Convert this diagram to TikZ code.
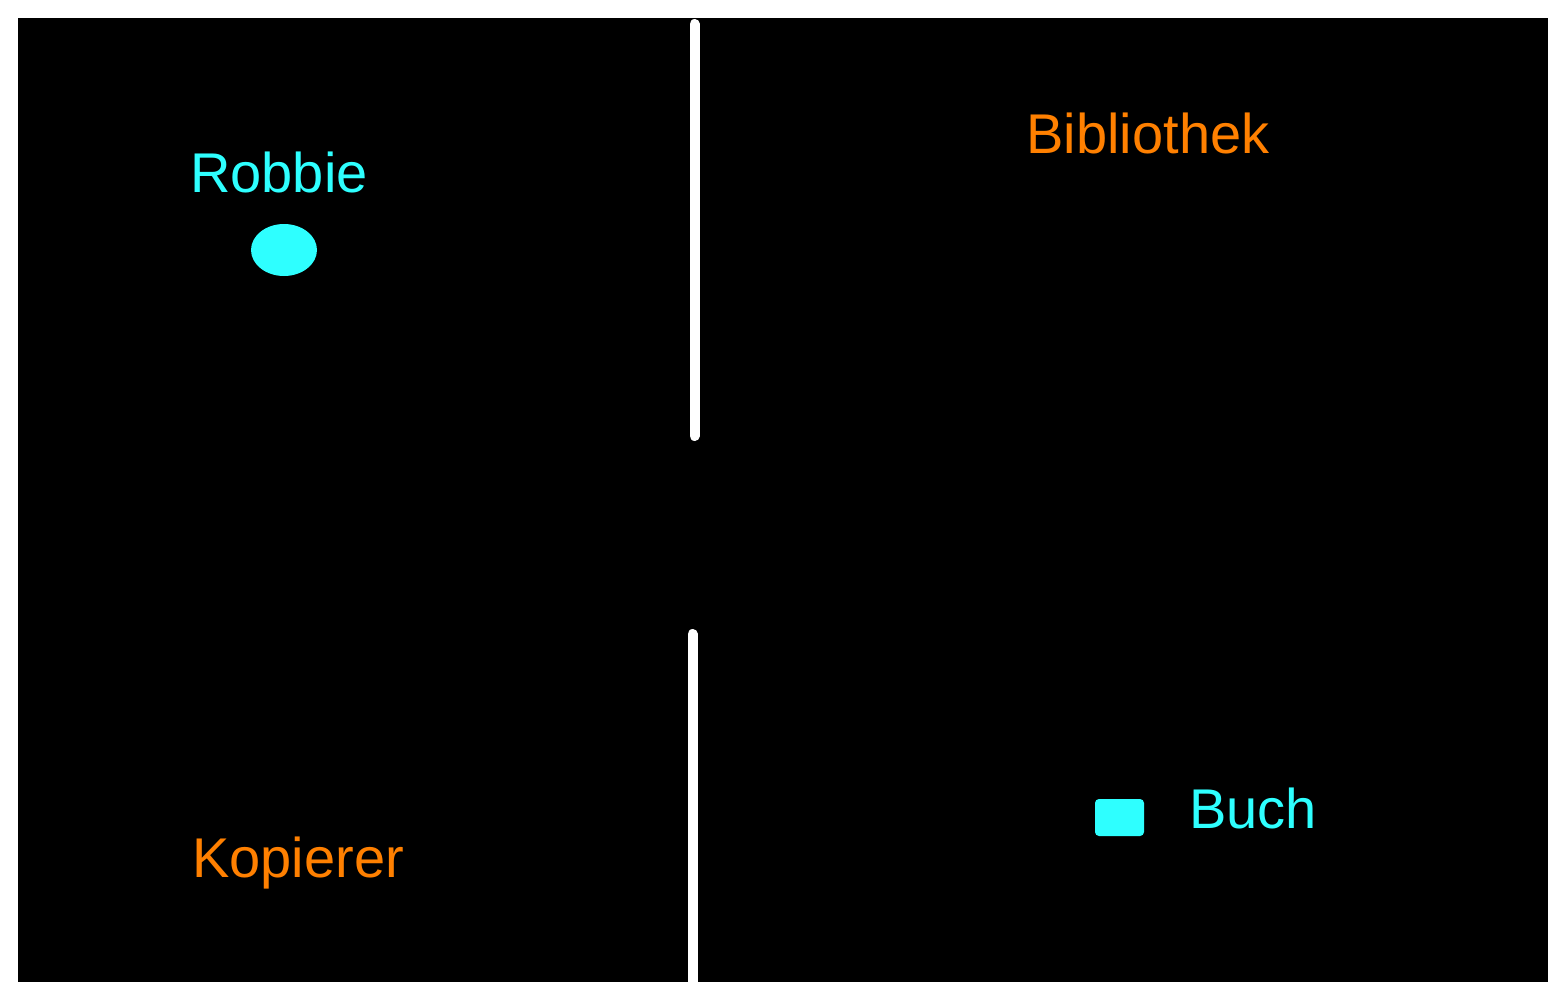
\documentclass[tikz,border=0pt]{standalone}
\usepackage{fontspec}
\setmainfont{Liberation Sans}
\usetikzlibrary{shapes.geometric}
\definecolor{cyanx}{RGB}{46,255,255}
\definecolor{orangex}{RGB}{255,128,0}
\tikzset{
  wall/.style={draw=white, line width=10pt, line cap=round},
  lbl/.style={font=\fontsize{56}{60}\selectfont, anchor=base, inner sep=0pt},
}
\begin{document}
\begin{tikzpicture}[x=1pt,y=-1pt]
\useasboundingbox (0,0) rectangle (1565,999);
\fill[white, rounded corners=14pt] (0,0) rectangle (1565,999);
\fill[black] (18,18) rectangle (1548,982);
% walls
\coordinate (w1a) at (694.5,24);
\coordinate (w1b) at (694.5,436);
\coordinate (w2a) at (692.5,634);
\coordinate (w2b) at (692.5,990);
\draw[wall] (w1a) -- (w1b);
\draw[wall] (w2a) -- (w2b);
% objects
\node[fill=cyanx, ellipse, minimum width=66pt, minimum height=52pt, inner sep=0pt] (robot) at (284,250) {};
\node[fill=cyanx, rounded corners=4pt, minimum width=49pt, minimum height=37pt, inner sep=0pt] (book) at (1119.5,817.5) {};
% labels
\node[lbl, text=cyanx] (robbie) at (279,192) {Robbie};
\node[lbl, text=orangex] (bib) at (1148,153) {Bibliothek};
\node[lbl, text=orangex] (kop) at (298,877) {Kopierer};
\node[lbl, text=cyanx] (buch) at (1253,828) {Buch};
\end{tikzpicture}
\end{document}
